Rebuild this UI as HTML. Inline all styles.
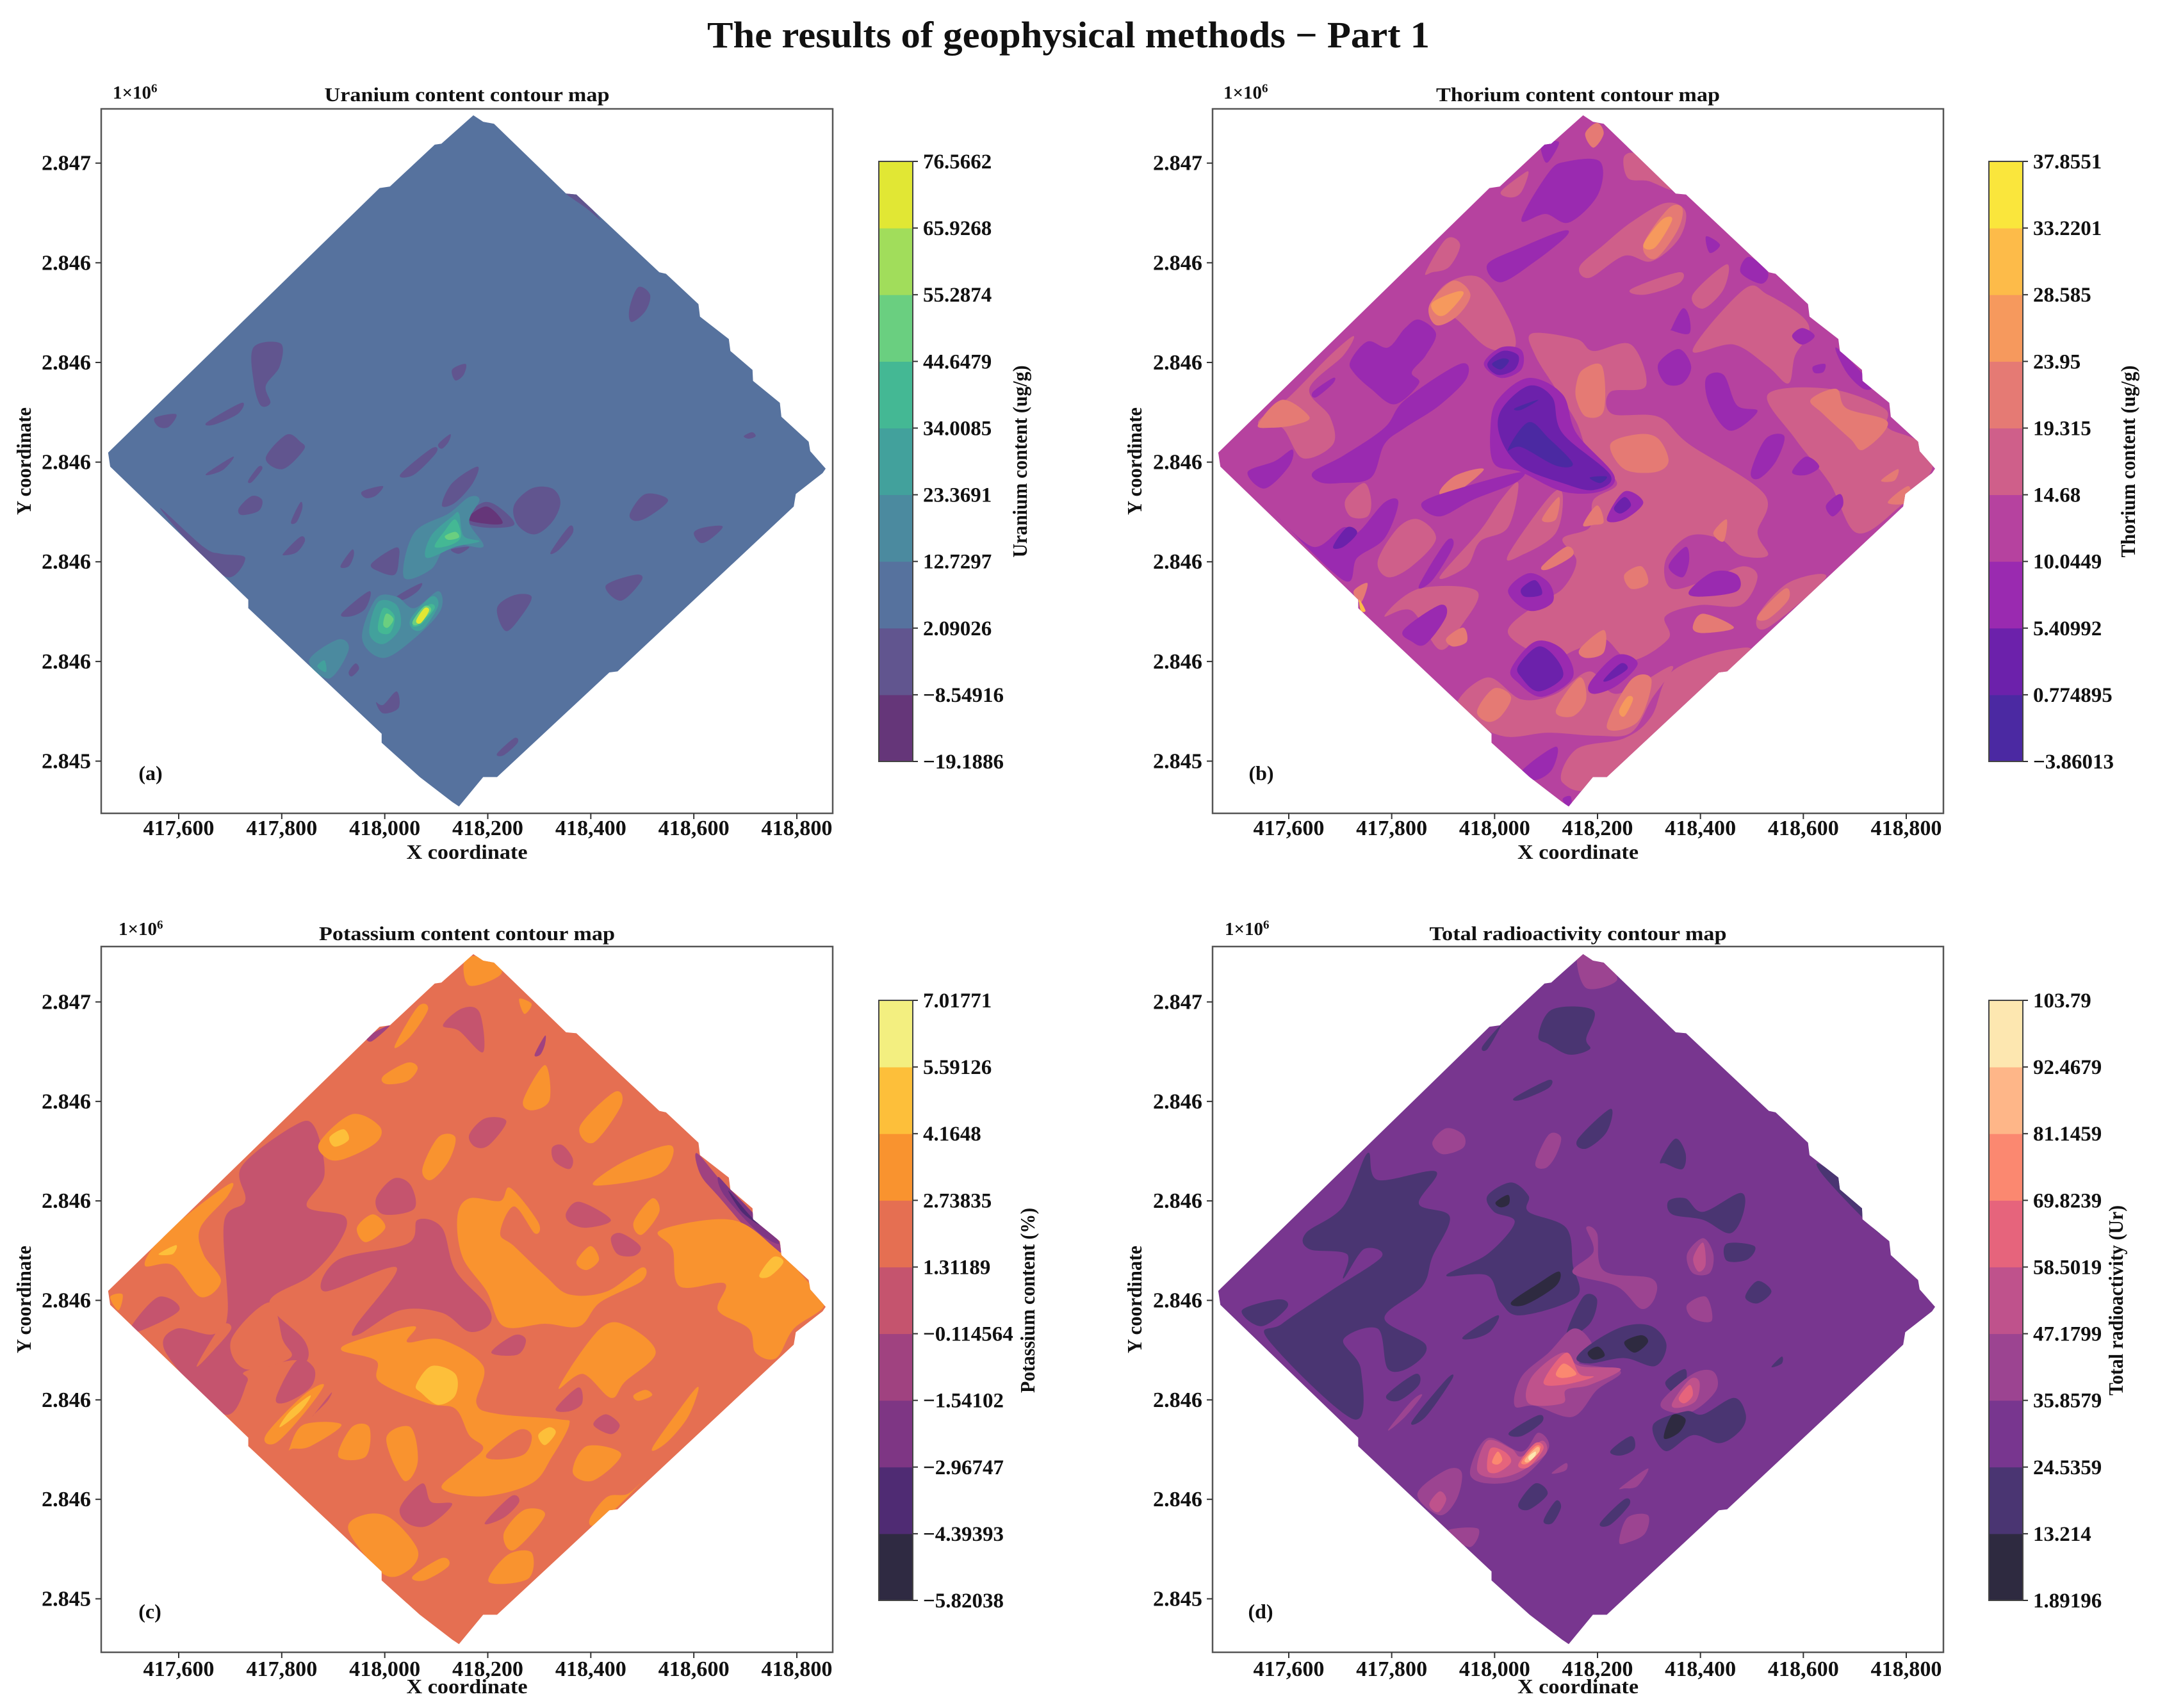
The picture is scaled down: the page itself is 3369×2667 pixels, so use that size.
<!DOCTYPE html>
<html>
<head>
<meta charset="utf-8">
<title>The results of geophysical methods - Part 1</title>
<style>
html,body{margin:0;padding:0;background:#fff;}
svg{display:block;}
text{font-family:"Liberation Serif",serif;font-weight:bold;fill:#111;}
</style>
</head>
<body>
<svg id="fig" xmlns="http://www.w3.org/2000/svg" width="3369" height="2667" viewBox="0 0 3369 2667">
<rect x="0" y="0" width="3369" height="2667" fill="#fff"/>
<text x="1668" y="74" font-size="58" text-anchor="middle" textLength="1128" lengthAdjust="spacingAndGlyphs">The results of geophysical methods − Part 1</text>
</svg>
<script>
// Axis data (metres, UTM)
const xTicks = [417600, 417800, 418000, 418200, 418400, 418600, 418800];
const xTickLabels = ['417,600', '417,800', '418,000', '418,200', '418,400', '418,600', '418,800'];
const yTicks = [2846600, 2846400, 2846200, 2846000, 2845800, 2845600, 2845400];
const yTickLabels = ['2.847', '2.846', '2.846', '2.846', '2.846', '2.846', '2.845'];
const xDomain = [417450, 418870];
const yDomain = [2845293, 2846710];
// All region coordinates below are metres east of 417000 and metres north of 2845000.
const originEast = 417000;
const originNorth = 2845000;

// Contour levels (colour-bar boundaries)
const uraniumLevels = [-19.1886, -8.54916, 2.09026, 12.7297, 23.3691, 34.0085, 44.6479, 55.2874, 65.9268, 76.5662];
const thoriumLevels = [-3.86013, 0.774895, 5.40992, 10.0449, 14.68, 19.315, 23.95, 28.585, 33.2201, 37.8551];
const potassiumLevels = [-5.82038, -4.39393, -2.96747, -1.54102, -0.114564, 1.31189, 2.73835, 4.1648, 5.59126, 7.01771];
const radioactivityLevels = [1.89196, 13.214, 24.5359, 35.8579, 47.1799, 58.5019, 69.8239, 81.1459, 92.4679, 103.79];

// Band colours
const viridisBands = ['#653679', '#61558f', '#56729e', '#4b8a9f', '#42a19c', '#44b894', '#6acf80', '#a1dd5b', '#e1e734'];
const plasmaBands = ['#4b29a2', '#6c21ab', '#9a2ab0', '#b6429f', '#cf5f8a', '#e57a74', '#f6995d', '#fdbb49', '#fae63c'];
const infernoBands = ['#2f2a42', '#4f2b73', '#7e3684', '#a04280', '#c5546e', '#e56f52', '#f9932f', '#fdbf3a', '#f3ef80'];
const magmaBands = ['#2e2a40', '#4a3572', '#78368f', '#9c4491', '#bf528c', '#e6647c', '#fb8870', '#feb688', '#fde7b0'];

// Survey outline shared by all four maps
const surveyOutline = [1172,1696, 1191,1683, 1212,1679, 1352,1539, 1372,1537, 1533,1381, 1546,1378, 1609,1317, 1612,1292, 1668,1247, 1671,1223, 1714,1185, 1715,1163, 1767,1119, 1770,1091, 1823,1041, 1826,1022, 1856,987, 1850,978, 1798,936, 1794,911, 1452,580, 1436,578, 1218,368, 1191,368, 1144,309, 1131,318, 1068,368, 994,437, 994,455, 735,707, 735,724, 467,991, 463,1019, 990,1550, 1010,1553, 1097,1637, 1110,1639];

// Contour regions: [band index, x, y, x, y, ...]
const uraniumRegions = [
[1,745,1230,798,1238,796,1192,769,1153,778,1119,759,1114,746,1158],
[1,1492,1351,1515,1336,1506,1303,1479,1281,1475,1308],
[1,1131,1186,1157,1197,1153,1175,1137,1164],
[1,554,1089,595,1096,581,1071,561,1071],
[1,655,1080,722,1119,715,1097,668,1075],
[1,769,1008,809,1055,836,1041,843,1025,802,986],
[1,735,963,755,991,762,986,742,960],
[1,655,978,706,1011,688,986,662,975],
[1,1030,975,1090,1027,1100,1019,1057,975],
[1,1104,1036,1127,1056,1124,1041,1111,1027],
[1,1111,913,1131,958,1180,991,1171,958,1137,919],
[1,956,941,996,952,983,933,963,928],
[1,717,908,742,932,762,924,755,902,722,894],
[1,818,880,836,919,840,908,829,880],
[1,805,819,836,850,845,842,829,819,805,813],
[1,914,791,936,824,940,813,930,791],
[1,974,796,1023,829,1027,802,1019,774,990,780],
[1,1023,730,1070,757,1064,741,1037,724],
[1,916,696,970,741,963,707,936,691],
[1,1218,707,1251,733,1285,730,1265,691,1235,661],
[1,1429,752,1486,774,1499,763,1459,722],
[1,1476,897,1506,936,1550,924,1513,891,1486,882],
[1,1600,858,1620,869,1656,871,1633,846,1613,838],
[1,1251,913,1285,947,1325,947,1341,919,1325,880,1291,855,1258,874],
[1,1153,885,1191,919,1224,908,1251,874,1191,869],
[0,1161,887,1198,911,1229,878,1191,877],
[1,1322,819,1358,871,1365,858,1338,824],
[1,1129,825,1164,830,1144,816],
[1,564,908,628,830,695,769,729,808,682,816,648,830],
[1,1352,1539,1379,1534,1419,1486,1392,1509],
[1,997,513,1023,540,1027,507,997,496,983,518],
[1,1218,415,1251,446,1258,437,1231,412],
[1,930,579,943,596,950,585,936,570],
[1,1697,1052,1713,1060,1720,1052,1707,1047],
[3,1037,769,1057,858,1124,897,1164,930,1184,924,1164,880,1191,830,1124,835,1090,785],
[4,1081,808,1090,852,1131,891,1144,897,1153,852,1184,841,1137,830],
[5,1097,830,1117,863,1137,885,1148,852,1131,835],
[6,1117,852,1137,860,1144,849,1124,844],
[3,956,646,983,726,1023,730,1057,707,1104,741,1108,702,1057,646,997,607],
[4,970,657,987,719,1023,713,1030,668,997,635],
[4,1050,685,1090,730,1104,713,1077,668,1057,663],
[5,987,663,997,707,1019,691,1010,657],
[5,1054,674,1084,713,1097,707,1070,674],
[6,997,674,1003,696,1017,685,1006,668],
[6,1054,680,1077,711,1090,702,1064,674],
[8,1061,682,1077,707,1086,702,1070,677],
[3,853,602,909,644,930,624,893,566],
[4,869,590,883,602,886,579]
];
const thoriumRegions = [
[4,1072,1258,1159,1247,1192,1223,1265,1236,1294,1153,1225,1141,1228,1097,1318,1091,1378,1036,1524,936,1511,858,1531,813,1478,813,1438,846,1378,852,1332,802,1345,746,1425,769,1484,791,1511,769,1478,713,1398,713,1332,691,1338,646,1265,602,1212,646,1159,624,1105,607,1026,657,1079,713,1132,746,1159,802,1132,846,1185,869,1192,924,1238,958,1185,1013,1159,1080,1119,1147,1079,1214],
[4,1385,1225,1485,1347,1531,1336,1598,1292,1611,1258,1584,1214,1571,1158,1531,1192,1465,1236],
[4,1531,1136,1651,1147,1757,1108,1764,1069,1824,1041,1850,986,1784,908,1704,858,1651,958,1584,1047],
[4,1252,1614,1285,1614,1345,1548,1299,1564,1259,1570],
[4,1012,1542,1052,1576,1066,1581,1052,1542,1032,1531],
[4,1165,1392,1212,1436,1265,1481,1332,1520,1371,1503,1358,1448,1305,1403,1252,1414,1185,1370],
[4,866,1381,906,1448,933,1436,912,1392,879,1381],
[4,873,1303,906,1358,972,1370,1026,1292,1039,1230,986,1230,919,1292],
[4,1265,1347,1358,1381,1358,1358,1292,1336],
[4,1385,1336,1451,1397,1445,1347,1405,1308],
[4,540,1080,600,1130,680,1214,726,1253,706,1214,640,1147,680,1091,686,1036,627,1008,587,1069],
[4,710,924,746,958,760,924,753,891,720,891],
[4,893,769,972,863,1012,924,1046,958,1026,869,972,841,946,791],
[4,813,869,853,885,886,846,839,791,793,769,773,802],
[4,786,691,853,746,966,741,933,668,893,624,839,702],
[4,1026,813,1106,930,1132,936,1119,858,1052,813],
[4,986,568,1052,524,1119,535,1185,580,1238,535,1345,591,1305,524,1265,457,1198,451,1105,457,1012,451,926,507],
[4,1132,357,1159,424,1252,446,1305,490,1345,580,1458,624,1484,596,1225,362],
[4,1511,691,1571,758,1644,769,1531,668],
[5,1225,1036,1279,1056,1318,1047,1338,1002,1312,980,1252,986],
[5,1159,1158,1172,1186,1209,1192,1212,1103,1178,1091,1159,1125],
[5,1614,1125,1664,1147,1684,1108,1764,1080,1717,1025,1691,1047,1638,1097],
[5,540,1075,587,1125,640,1091,613,1075,566,1069],
[5,873,1314,919,1364,953,1336,926,1292,886,1275],
[6,879,1320,926,1342,939,1336,906,1297,886,1297],
[5,1289,1436,1338,1509,1365,1509,1355,1464,1312,1408],
[6,1289,1436,1325,1486,1345,1486,1312,1431],
[5,1176,1659,1199,1681,1212,1659,1192,1631],
[5,966,501,999,546,1032,529,1012,490,986,479],
[5,1119,501,1165,568,1178,524,1152,490],
[5,1218,468,1265,563,1305,563,1278,479],
[6,1242,501,1258,529,1269,524,1252,490],
[5,1385,668,1405,696,1465,668,1405,657],
[5,1172,874,1199,913,1212,880,1192,874],
[5,1092,885,1125,930,1119,885],
[5,1092,791,1139,830,1152,813,1105,785],
[5,893,941,926,974,979,985,913,930],
[5,1252,774,1285,791,1298,757,1265,746],
[5,906,646,939,668,946,640,919,630],
[5,1165,624,1212,663,1212,618,1178,607],
[5,1425,858,1451,885,1445,841],
[5,1511,691,1564,746,1571,724,1531,685],
[5,1751,963,1784,986,1777,963],
[5,1764,919,1804,952,1804,919],
[5,726,741,753,757,740,718],
[7,737,724,749,702,740,702],
[2,1052,1486,1105,1581,1139,1603,1205,1603,1201,1537,1145,1481,1099,1498],
[2,986,1397,1052,1431,1132,1464,1139,1453,1079,1403,1012,1361],
[2,720,1203,753,1242,793,1230,826,1269,853,1286,886,1258,866,1214,839,1180,853,1158,806,1116,760,1147,726,1180],
[2,647,980,706,1013,786,1069,826,1125,933,1197,946,1169,893,1114,826,1069,786,1036,760,969,700,958,660,960],
[2,992,1069,1006,1125,1066,1169,1132,1136,1159,1058,1232,974,1205,941,1132,941,1052,980,999,997],
[1,1012,1047,1012,1103,1066,1153,1112,1130,1132,1058,1225,974,1192,944,1132,958,1052,991],
[0,1026,1025,1066,1080,1106,1047,1152,997,1119,993,1052,1030],
[0,1039,1108,1085,1125,1052,1105],
[0,1185,969,1218,971,1205,958],
[2,979,1197,1012,1230,1052,1225,1052,1186,1012,1169],
[1,986,1197,1015,1223,1046,1214,1039,1186,1006,1175],
[0,995,1197,1015,1208,1028,1203,1012,1186],
[2,859,919,946,952,1052,980,1039,958,959,925,893,891],
[2,1318,1197,1358,1227,1382,1192,1365,1158,1332,1158],
[2,1411,1169,1445,1175,1471,1114,1511,1102,1458,1063,1418,1114],
[2,1498,980,1527,1047,1563,1052,1547,1002,1514,967],
[2,1578,980,1605,1011,1631,991,1605,974],
[2,1644,913,1671,936,1677,913,1657,891],
[2,1578,1253,1598,1269,1622,1253,1598,1236],
[2,1619,1192,1642,1197,1639,1181,1622,1179],
[2,1478,1381,1494,1412,1531,1381,1518,1358],
[2,1344,1269,1365,1308,1378,1292,1378,1258,1345,1264],
[2,1218,885,1252,941,1289,919,1252,885],
[1,1232,908,1252,930,1265,913,1245,897],
[2,1026,741,1066,777,1106,757,1112,718,1066,702],
[1,1052,746,1079,763,1092,735,1059,730],
[2,1378,741,1425,780,1471,774,1471,741,1398,730],
[2,1338,791,1371,830,1378,802,1365,769],
[2,823,663,893,713,906,691,866,635,839,640],
[2,1032,585,1079,640,1132,624,1152,568,1092,529,1046,557],
[1,1046,591,1085,630,1119,607,1132,568,1085,540,1052,568],
[2,1185,557,1238,613,1278,596,1238,552,1192,535],
[1,1212,563,1245,596,1258,585,1225,563],
[2,647,830,706,869,733,858,786,919,813,919,786,847,733,808,706,763,573,897],
[1,686,830,713,869,733,858,706,830],
[2,647,1141,686,1169,686,1158,653,1130],
[2,520,980,573,1002,607,1025,600,991,553,947],
[2,1052,379,1119,429,1112,384,1079,362],
[2,1132,323,1148,329,1148,301],
[2,1092,1637,1125,1642,1105,1603,1095,1609],
[2,853,752,906,841,919,830,879,763],
[2,1664,1230,1731,1158,1717,1147,1684,1180],
[2,1411,1453,1438,1436,1418,1420]
];
const potassiumRegions = [
[4,722,1269,822,1350,863,1350,883,1253,849,1189,923,1168,910,1114,856,1050,776,996,843,921,849,879,816,879,729,857,733,836,688,771,575,895,595,943,668,932,695,975,688,1157,729,1200],
[5,702,921,776,996,802,921,816,884,729,862],
[5,635,868,682,948,702,943,668,900],
[4,883,1018,910,1082,1044,1114,1064,1162,1111,1146,1137,1061,1198,991,1204,953,1164,937,1111,975,1030,980,950,932,943,948,1023,1066],
[4,508,948,561,1007,601,980,521,937],
[4,1113,1553,1150,1587,1184,1579,1191,1499,1144,1542],
[4,1164,1333,1195,1366,1236,1360,1202,1312,1175,1309],
[4,983,1205,1017,1245,1050,1232,1057,1184,997,1173],
[4,1325,1307,1345,1312,1365,1285,1358,1264,1329,1280],
[4,1353,1178,1379,1198,1439,1162,1392,1146,1358,1157],
[4,1439,1125,1459,1135,1496,1109,1485,1090,1452,1093],
[4,1207,895,1251,930,1274,921,1258,891],
[4,1030,584,1073,632,1090,595,1131,590,1084,547,1044,552],
[4,1194,552,1245,606,1261,595,1231,563],
[4,1405,750,1429,771,1456,750,1439,731],
[4,1332,782,1376,825,1383,793,1358,777],
[4,789,804,829,879,863,863,856,825,809,795],
[4,863,771,896,814,889,798,863,771],
[3,1291,1494,1311,1532,1311,1515,1302,1494],
[3,967,1531,1010,1553,975,1521],
[3,1606,1296,1660,1232,1767,1114,1740,1104,1647,1210,1613,1253],
[2,1647,1248,1673,1221,1765,1119,1727,1135,1660,1210],
[1,1667,1221,1707,1173,1727,1152,1693,1178],
[3,762,675,829,606,809,622,769,659],
[6,534,1071,575,1135,695,1232,695,1210,642,1146,648,1093,682,1039,642,1007,588,1071],
[6,1141,1168,1164,1205,1224,1200,1244,1226,1298,1157,1291,1135,1251,1189,1224,1135,1251,1109,1311,1050,1358,1012,1431,1018,1499,1066,1499,1039,1418,996,1378,948,1311,953,1231,948,1198,1018,1151,1087],
[6,1535,1141,1673,1162,1760,1103,1820,1039,1854,991,1794,943,1760,884,1720,895,1707,943,1647,980,1660,1034,1573,1028,1559,1103],
[6,916,900,950,921,1057,948,1044,916,1111,921,1191,868,1178,793,1218,772,1338,761,1358,750,1325,686,1285,632,1191,606,1111,622,1151,664,1191,702,1164,729,1137,782,1084,793,990,836,983,879],
[5,1198,691,1258,739,1285,729,1271,691,1218,680],
[6,1338,825,1418,943,1472,948,1526,895,1466,836,1439,804,1385,852],
[6,873,1317,936,1374,990,1350,983,1317,923,1285,889,1285],
[7,893,1328,920,1344,930,1323,903,1309],
[6,997,1451,1044,1478,1064,1467,1044,1441,1003,1435],
[6,1019,1510,1064,1590,1084,1585,1050,1531],
[6,1157,1687,1211,1687,1225,1655,1164,1633],
[6,1261,1606,1285,1596,1271,1576],
[6,1269,1403,1311,1473,1320,1403,1285,1382],
[6,1379,1350,1446,1419,1459,1392,1405,1317],
[6,1073,1264,1104,1328,1137,1328,1124,1280,1090,1242],
[6,1405,1237,1466,1280,1553,1312,1553,1275,1519,1248,1432,1232],
[6,946,1146,977,1173,1001,1146,963,1117],
[6,1483,1157,1519,1205,1533,1178,1499,1132],
[6,1372,1077,1399,1109,1416,1082,1392,1061],
[6,769,729,842,809,882,830,842,771,788,713],
[6,815,702,842,750,916,750,856,707,822,702],
[6,910,686,936,745,970,745,963,686],
[6,1003,723,1050,745,1064,675,1037,638],
[6,1365,654,1392,707,1459,691,1405,638],
[6,1519,702,1573,782,1606,825,1606,809,1586,761,1546,713],
[6,1483,809,1506,820,1519,809,1492,798],
[6,930,536,957,568,1010,563,1064,498,1044,456,997,450],
[6,1054,445,1111,482,1124,466,1077,437],
[6,1202,434,1238,488,1285,493,1278,440],
[6,1231,531,1271,579,1311,568,1251,498],
[6,1399,563,1432,605,1472,611,1506,643,1446,579,1405,547],
[6,467,1007,491,1012,483,980],
[7,1061,830,1091,868,1137,852,1137,809,1104,790,1071,814],
[7,796,745,816,777,856,809,836,777],
[7,1298,729,1319,745,1332,734,1311,709],
[7,1727,1050,1754,1087,1774,1077,1747,1048],
[7,561,1093,595,1111,588,1093]
];
const radioactivityRegions = [
[1,633,1135,706,1189,753,1296,773,1242,886,1259,853,1194,913,1168,879,1087,859,1028,786,964,866,911,839,868,793,862,773,943,706,921,740,862,726,761,560,921,587,953,680,1018,780,1087,746,1103,706,1044,713,1093,640,1103],
[1,509,980,580,1002,597,986,547,948],
[1,906,1050,986,1093,1039,1157,999,1178,986,1210,1032,1237,1066,1210,1066,1178,1139,1146,1152,1071,1159,1007,1052,970,1012,996,986,1050],
[0,1032,996,1085,1034,1125,1058,1119,1029,1059,991],
[0,1002,1197,1026,1212,1028,1194,1012,1187],
[1,1139,927,1172,1007,1199,1002,1185,953],
[1,939,927,1006,970,992,938,959,923],
[1,1338,1200,1371,1205,1405,1178,1478,1216,1484,1178,1458,1135,1405,1162,1345,1173],
[1,1451,1114,1505,1109,1491,1082,1451,1080],
[1,1487,1007,1511,1039,1538,1018,1511,994],
[1,1085,1531,1112,1585,1192,1583,1178,1526,1185,1505,1145,1494,1105,1515],
[1,1039,1408,1105,1443,1105,1427,1052,1403],
[1,1161,1323,1225,1385,1218,1339,1178,1305],
[1,1322,1280,1351,1325,1371,1296,1365,1264,1332,1275],
[1,1630,1275,1684,1232,1750,1135,1704,1178,1637,1253],
[1,976,1510,1012,1553,986,1505],
[1,1332,836,1369,862,1371,836,1351,814],
[1,790,809,846,852,853,830,813,798],
[1,839,756,906,841,917,841,866,766],
[1,1028,734,1085,769,1092,755,1052,727],
[1,1225,697,1265,727,1272,702,1245,688],
[1,1046,590,1079,632,1103,611,1066,579],
[1,1095,557,1119,597,1129,584,1112,552],
[1,1205,552,1252,600,1262,589,1225,549],
[1,1538,866,1558,887,1558,873],
[3,1161,1692,1205,1687,1238,1644,1178,1628],
[3,879,1317,906,1346,939,1333,939,1307,899,1294],
[3,1079,1275,1105,1333,1129,1328,1119,1291,1099,1266],
[3,1152,1055,1192,1098,1178,1146,1199,1135,1212,1060,1305,1044,1312,1007,1285,983,1238,1028],
[3,1374,1093,1405,1125,1425,1093,1418,1055,1385,1055],
[4,1386,1085,1405,1116,1410,1072,1396,1058],
[3,1374,991,1411,1007,1422,959,1385,964],
[3,1039,788,1052,846,1105,895,1152,943,1185,921,1192,884,1165,873,1245,857,1199,820,1152,766,1079,788],
[4,1066,793,1072,846,1132,895,1165,868,1245,862,1185,830,1139,820,1132,793],
[5,1095,836,1139,895,1165,852,1192,846,1132,830],
[6,1119,852,1135,873,1159,852,1132,844],
[1,1159,884,1192,916,1252,948,1305,948,1334,911,1312,868,1252,884,1185,873],
[0,1181,895,1201,907,1214,889,1192,881],
[0,1252,916,1285,930,1298,916,1272,895],
[3,1325,798,1385,852,1425,857,1431,820,1385,777,1338,777],
[4,1345,793,1379,841,1398,836,1391,798,1358,784],
[5,1358,804,1379,830,1385,809,1369,793],
[1,1308,750,1371,777,1405,771,1465,804,1488,771,1478,739,1438,713,1385,729,1332,697],
[0,1329,723,1345,769,1371,761,1358,734],
[3,793,739,839,798,859,809,826,766],
[3,952,654,986,723,1052,696,1085,734,1105,702,1052,643,986,632],
[4,966,659,986,718,1032,702,1052,686,1092,718,1099,691,1046,654,999,643],
[5,986,659,992,702,1019,696,1032,675,1006,654],
[6,995,675,1006,696,1015,680,1006,670],
[5,1046,670,1079,713,1095,702,1066,665],
[6,1052,675,1079,707,1089,702,1066,673],
[7,1059,680,1082,705,1087,696,1066,675],
[8,1066,686,1079,696,1079,688,1069,678],
[3,850,611,906,659,936,654,926,600,893,568],
[4,873,590,893,616,906,600,890,574],
[3,906,536,968,541,952,504],
[3,1112,654,1139,673,1139,659,1119,652],
[3,1245,624,1298,662,1278,627,1252,622],
[3,1242,515,1258,563,1298,568,1292,531,1258,513]
];

// Figure layout
const panels = [
  {id:'uranium', letter:'(a)', title:'Uranium content contour map', titleW:445, cbTitle:'Uranium content (ug/g)', levels:uraniumLevels, bands:viridisBands, base:2, regions:uraniumRegions,
   left:158, right:1300, top:170, bottom:1270, x0:279, x1:1244, y0:254.7, y1:1188.5, titleY:158, expX:176, expY:154, tagX:235, tagY:1218, xLabelY:1341, yLabelX:48, cbX:1372, cbTop:252, cbBottom:1189, cbTitleX:1603, cbTitleW:300, xTickY:1304},
  {id:'thorium', letter:'(b)', title:'Thorium content contour map', titleW:443, cbTitle:'Thorium content (ug/g)', levels:thoriumLevels, bands:plasmaBands, base:3, regions:thoriumRegions,
   left:1893, right:3034, top:170, bottom:1270, x0:2012, x1:2976, y0:254.7, y1:1188.5, titleY:158, expX:1910, expY:154, tagX:1969, tagY:1218, xLabelY:1341, yLabelX:1782, cbX:3105, cbTop:252, cbBottom:1189, cbTitleX:3333, cbTitleW:300, xTickY:1304},
  {id:'potassium', letter:'(c)', title:'Potassium content contour map', titleW:462, cbTitle:'Potassium content (%)', levels:potassiumLevels, bands:infernoBands, base:5, regions:potassiumRegions,
   left:158, right:1300, top:1478, bottom:2580, x0:279, x1:1244, y0:1564.5, y1:2496.5, titleY:1468, expX:185, expY:1460, tagX:234, tagY:2527, xLabelY:2644, yLabelX:48, cbX:1372, cbTop:1562, cbBottom:2499, cbTitleX:1615, cbTitleW:289, xTickY:2617},
  {id:'radioactivity', letter:'(d)', title:'Total radioactivity contour map', titleW:464, cbTitle:'Total radioactivity (Ur)', levels:radioactivityLevels, bands:magmaBands, base:2, regions:radioactivityRegions,
   left:1893, right:3034, top:1478, bottom:2580, x0:2012, x1:2976, y0:1564.5, y1:2496.5, titleY:1468, expX:1912, expY:1460, tagX:1968, tagY:2527, xLabelY:2644, yLabelX:1782, cbX:3105, cbTop:1562, cbBottom:2499, cbTitleX:3314, cbTitleW:297, xTickY:2617}
];

const NS = 'http://www.w3.org/2000/svg';
const fig = document.getElementById('fig');
const defs = document.createElementNS(NS, 'defs');
fig.appendChild(defs);

function make(tag, attrs, parent) {
  const e = document.createElementNS(NS, tag);
  for (const k in attrs) e.setAttribute(k, attrs[k]);
  parent.appendChild(e);
  return e;
}
function pairs(flat, sx, sy) {
  const out = [];
  for (let i = 0; i + 1 < flat.length; i += 2) out.push([sx(flat[i]), sy(flat[i + 1])]);
  return out;
}
function polyPath(p) {
  return 'M' + p.map(q => q[0].toFixed(1) + ' ' + q[1].toFixed(1)).join('L') + 'Z';
}
function smoothPath(p) {
  const n = p.length;
  let d = 'M' + p[0][0].toFixed(1) + ' ' + p[0][1].toFixed(1);
  for (let i = 0; i < n; i++) {
    const a = p[(i - 1 + n) % n], b = p[i], c = p[(i + 1) % n], e = p[(i + 2) % n];
    const c1x = b[0] + (c[0] - a[0]) / 6, c1y = b[1] + (c[1] - a[1]) / 6;
    const c2x = c[0] - (e[0] - b[0]) / 6, c2y = c[1] - (e[1] - b[1]) / 6;
    d += 'C' + c1x.toFixed(1) + ' ' + c1y.toFixed(1) + ' ' + c2x.toFixed(1) + ' ' + c2y.toFixed(1) + ' ' + c[0].toFixed(1) + ' ' + c[1].toFixed(1);
  }
  return d + 'Z';
}
function formatLevel(v) {
  return String(v).replace('-', '\u2212');
}

panels.forEach(function (P) {
  const g = make('g', {}, fig);
  
  

  // Axis functions calibrated from tick positions
  const kx = (P.x1 - P.x0) / (xTicks[xTicks.length - 1] - xTicks[0]);
  const ky = (P.y1 - P.y0) / (yTicks[0] - yTicks[yTicks.length - 1]);
  const xScale = v => P.x0 + (v - xTicks[0]) * kx;
  const yScale = v => P.y0 + (yTicks[0] - v) * ky;
  const sx = v => xScale(originEast + v);
  const sy = v => yScale(originNorth + v);

  // Clip
  const clip = make('clipPath', {id: 'clip-' + P.id}, defs);
  make('path', {d: polyPath(pairs(surveyOutline, sx, sy))}, clip);

  // Survey base
  const basePath = make('path', {d: polyPath(pairs(surveyOutline, sx, sy)), fill: P.bands[P.base]}, g);
  
  

  // Regions
  const rg = make('g', {'clip-path': 'url(#clip-' + P.id + ')'}, g);
  
  
  P.regions.forEach(function (r) {
    const band = r[0];
    const path = make('path', {d: smoothPath(pairs(r.slice(1), sx, sy)), fill: P.bands[band]}, rg);
    
    
  });

  // Frame
  const frame = make('rect', {x: P.left, y: P.top, width: P.right - P.left, height: P.bottom - P.top, fill: 'none', stroke: '#555', 'stroke-width': 2.5}, g);
  
  

  // X ticks
  xTicks.forEach(function (t, i) {
    const x = xScale(t);
    const tick = make('line', {x1: x, x2: x, y1: P.bottom, y2: P.bottom + 9, stroke: '#333', 'stroke-width': 2}, g);
    
    
    const lab = make('text', {x: x, y: P.xTickY, 'font-size': 34, 'text-anchor': 'middle', textLength: 111, lengthAdjust: 'spacingAndGlyphs'}, g);
    lab.textContent = xTickLabels[i];
    
    
  });
  // Y ticks
  yTicks.forEach(function (t, i) {
    const y = yScale(t);
    const tick = make('line', {x1: P.left - 9, x2: P.left, y1: y, y2: y, stroke: '#333', 'stroke-width': 2}, g);
    
    
    const lab = make('text', {x: P.left - 16, y: y + 11, 'font-size': 34, 'text-anchor': 'end', textLength: 77, lengthAdjust: 'spacingAndGlyphs'}, g);
    lab.textContent = yTickLabels[i];
    
    
  });

  // Titles and labels
  const title = make('text', {x: (P.left + P.right) / 2, y: P.titleY, 'font-size': 31, 'text-anchor': 'middle', textLength: P.titleW, lengthAdjust: 'spacingAndGlyphs'}, g);
  title.textContent = P.title;
  
  

  const xl = make('text', {x: (P.left + P.right) / 2, y: P.xLabelY, 'font-size': 32, 'text-anchor': 'middle', textLength: 189, lengthAdjust: 'spacingAndGlyphs'}, g);
  xl.textContent = 'X coordinate';
  
  

  const cy = (P.top + P.bottom) / 2;
  const yl = make('text', {x: P.yLabelX, y: cy, 'font-size': 32, 'text-anchor': 'middle', textLength: 168, lengthAdjust: 'spacingAndGlyphs', transform: 'rotate(-90 ' + P.yLabelX + ' ' + cy + ')'}, g);
  yl.textContent = 'Y coordinate';
  
  

  const ex = make('text', {x: P.expX, y: P.expY, 'font-size': 29}, g);
  ex.textContent = '1×10';
  const sup = make('tspan', {dy: -10, 'font-size': 19}, ex);
  sup.textContent = '6';
  
  

  const tag = make('text', {x: P.tagX, y: P.tagY, 'font-size': 32, 'text-anchor': 'middle'}, g);
  tag.textContent = P.letter;
  
  

  // Colour bar
  const cbW = 53;
  const lv = P.levels;
  const cbScale = v => P.cbBottom - (v - lv[0]) / (lv[lv.length - 1] - lv[0]) * (P.cbBottom - P.cbTop);
  const cb = make('g', {}, g);
  
  
  P.bands.forEach(function (c, i) {
    const yTop = cbScale(lv[i + 1]), yBot = cbScale(lv[i]);
    const seg = make('rect', {x: P.cbX, y: yTop, width: cbW, height: yBot - yTop + 0.5, fill: c}, cb);
    
    
  });
  const cbf = make('rect', {x: P.cbX, y: P.cbTop, width: cbW, height: P.cbBottom - P.cbTop, fill: 'none', stroke: '#444', 'stroke-width': 2}, cb);
  
  
  lv.forEach(function (v) {
    const y = cbScale(v);
    const t = make('line', {x1: P.cbX + cbW, x2: P.cbX + cbW + 8, y1: y, y2: y, stroke: '#333', 'stroke-width': 2}, cb);
    
    
    const lab = make('text', {x: P.cbX + cbW + 16, y: y + 11, 'font-size': 33}, cb);
    lab.textContent = formatLevel(v);
    
    
  });
  const cmid = (P.cbTop + P.cbBottom) / 2;
  const ct = make('text', {x: P.cbTitleX, y: cmid, 'font-size': 32, 'text-anchor': 'middle', textLength: P.cbTitleW, lengthAdjust: 'spacingAndGlyphs', transform: 'rotate(-90 ' + P.cbTitleX + ' ' + cmid + ')'}, cb);
  ct.textContent = P.cbTitle;
  
  
});
</script>
</body>
</html>
